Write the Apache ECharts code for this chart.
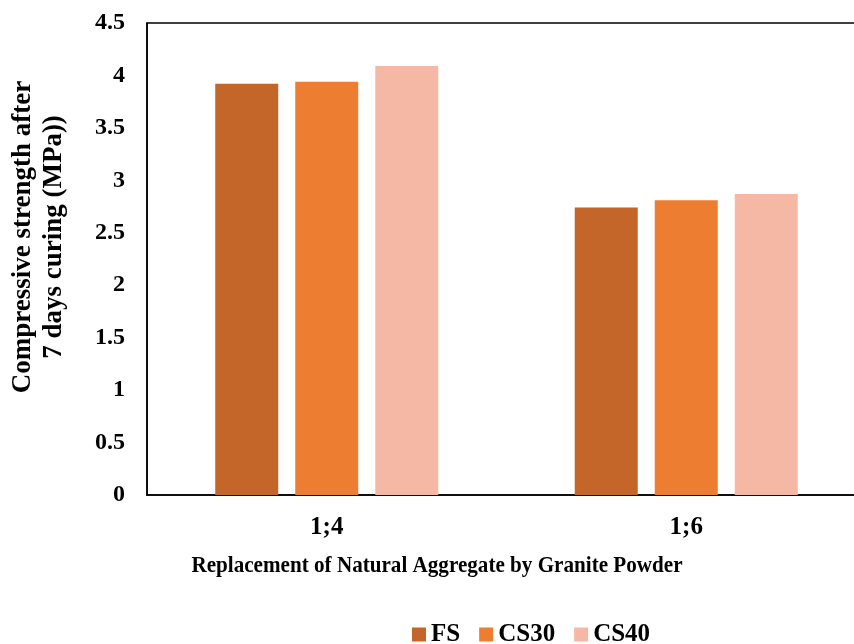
<!DOCTYPE html>
<html>
<head>
<meta charset="utf-8">
<script src="https://cdn.jsdelivr.net/npm/echarts@6/dist/echarts.min.js"></script>
<style>
  html, body { margin: 0; padding: 0; background: #fff; }
  #chart { width: 854px; height: 644px; }
</style>
</head>
<body>
<div id="chart"></div>
<script>
// Mix ratios on the category axis
const categories = ['1;4', '1;6'];

// 7-day compressive strength (MPa) per sand type
const fsValues = [3.92, 2.74];
const cs30Values = [3.94, 2.81];
const cs40Values = [4.09, 2.87];

const seriesNames = ['FS', 'CS30', 'CS40'];
const seriesColors = ['#C4652A', '#ED7D31', '#F4B8A5'];

const xTitle = 'Replacement of Natural Aggregate by Granite Powder';
const yTitle = 'Compressive strength after\n7 days curing (MPa))';

const FONT = "'Liberation Serif', 'Times New Roman', serif";

const chart = echarts.init(document.getElementById('chart'), null, { renderer: 'canvas' });

const valueSets = [fsValues, cs30Values, cs40Values];

chart.setOption({
  animation: false,
  backgroundColor: '#ffffff',
  textStyle: { fontFamily: FONT },
  grid: {
    left: 147,
    top: 23,
    width: 719,
    height: 472,
    outerBoundsMode: 'none',
    show: true,
    borderColor: '#000',
    borderWidth: 1.5,
    containLabel: false
  },
  legend: {
    data: seriesNames,
    top: 617,
    left: 407,
    icon: 'rect',
    itemWidth: 14,
    itemHeight: 14,
    itemGap: 19,
    textStyle: { fontFamily: FONT, fontWeight: 'bold', fontSize: 25, color: '#000' }
  },
  xAxis: {
    type: 'category',
    data: categories,
    axisLine: { show: true, lineStyle: { color: '#000', width: 1.5 } },
    axisTick: { show: false },
    axisLabel: { margin: 20, fontFamily: FONT, fontWeight: 'bold', fontSize: 25, color: '#000' }
  },
  yAxis: {
    type: 'value',
    min: 0,
    max: 4.5,
    interval: 0.5,
    splitLine: { show: false },
    axisLine: { show: true, lineStyle: { color: '#000', width: 1.5 } },
    axisTick: { show: false },
    axisLabel: { margin: 22, fontFamily: FONT, fontWeight: 'bold', fontSize: 24, color: '#000' }
  },
  // Axis titles placed as text elements (x title set slightly condensed)
  graphic: [
    {
      type: 'text',
      x: 437,
      y: 566,
      scaleX: 0.88,
      originX: 0,
      style: {
        text: xTitle,
        fontFamily: FONT,
        fontWeight: 'bold',
        fontSize: 24,
        fill: '#000',
        align: 'center',
        verticalAlign: 'middle'
      }
    },
    {
      type: 'text',
      x: 39,
      y: 237,
      rotation: Math.PI / 2,
      style: {
        text: yTitle,
        fontFamily: FONT,
        fontWeight: 'bold',
        fontSize: 27,
        lineHeight: 31,
        fill: '#000',
        align: 'center',
        verticalAlign: 'middle'
      }
    }
  ],
  series: seriesNames.map((name, i) => ({
    name: name,
    type: 'bar',
    data: valueSets[i],
    barWidth: 63,
    barGap: '27%',
    itemStyle: { color: seriesColors[i] }
  }))
});
</script>
</body>
</html>
